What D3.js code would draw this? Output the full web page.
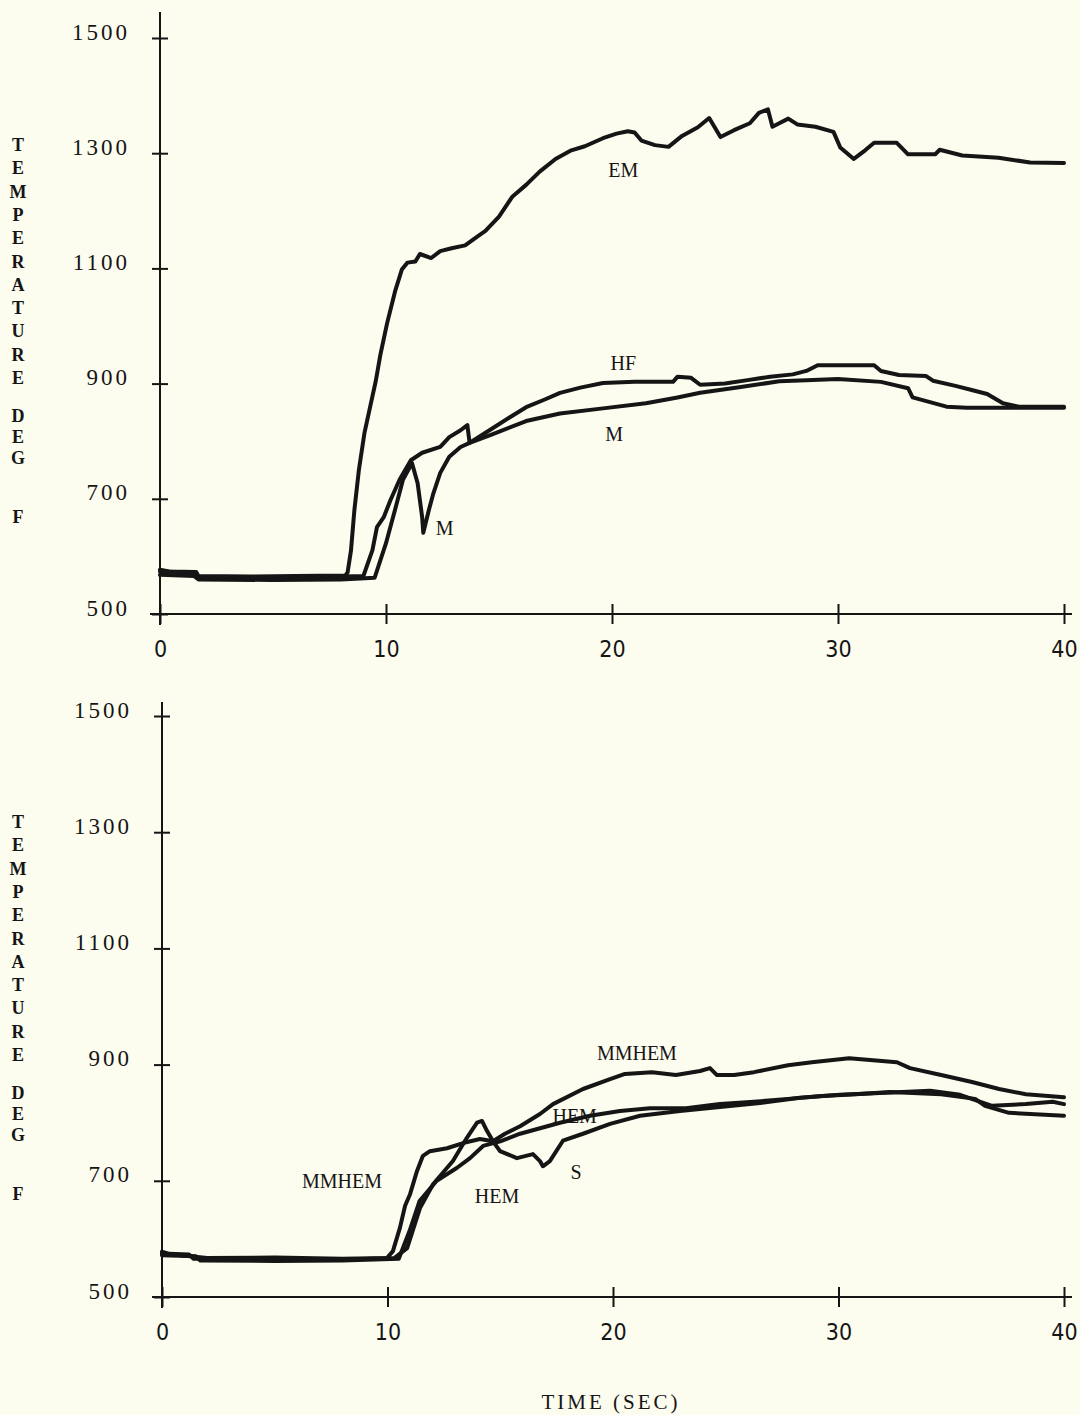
<!DOCTYPE html>
<html><head><meta charset="utf-8">
<script src="https://cdn.jsdelivr.net/npm/d3@7"></script>
<style>
html,body{margin:0;padding:0;background:#fcfcef;}
svg{display:block;}
</style></head>
<body>
<svg id="c" width="1080" height="1415"></svg>
<script>
// ---------- data (time sec, temperature deg F) ----------
const xTicks = [0, 10, 20, 30, 40];
const yTicks = [500, 700, 900, 1100, 1300, 1500];
const yTitleWords = ["TEMPERATURE", "DEG", "F"];
const xTitle = "TIME (SEC)";

// Top panel
const topEM = [[0,577],[0.4,574],[1.6,573],[1.7,566],[4,565],[6,566],[8.2,567],[8.3,572],[8.45,610],[8.6,680],[8.8,750],[9.05,815],[9.3,860],[9.55,905],[9.75,950],[10.05,1005],[10.4,1060],[10.7,1098],[10.95,1110],[11.3,1112],[11.5,1125],[12.0,1118],[12.4,1130],[12.9,1135],[13.5,1140],[14.1,1157],[14.4,1165],[15.0,1190],[15.6,1225],[16.2,1245],[16.8,1268],[17.5,1290],[18.2,1305],[18.8,1312],[19.6,1326],[20.2,1334],[20.7,1338],[21.0,1336],[21.3,1322],[21.9,1314],[22.5,1311],[23.1,1330],[23.8,1345],[24.3,1361],[24.8,1328],[25.4,1340],[26.1,1352],[26.5,1370],[26.9,1376],[27.1,1346],[27.4,1352],[27.8,1360],[28.2,1350],[29.0,1346],[29.8,1337],[30.1,1310],[30.7,1290],[31.2,1305],[31.6,1318],[32.6,1318],[33.1,1298],[34.3,1298],[34.5,1306],[35.5,1296],[37.1,1292],[38.5,1284],[40,1283]];
const topHF = [[0,574],[1.5,572],[1.7,563],[4,562],[6,563],[9.0,566],[9.4,611],[9.6,651],[9.9,668],[10.2,698],[10.6,733],[11.1,767],[11.6,780],[12.4,790],[12.8,807],[13.3,819],[13.6,828],[13.7,797],[13.9,802],[14.7,822],[15.5,842],[16.2,859],[17.0,872],[17.7,884],[18.6,893],[19.6,901],[21.0,903],[22.7,903],[22.9,912],[23.5,910],[23.9,898],[25.0,900],[26.0,906],[27.0,912],[28.0,916],[28.6,922],[29.1,932],[30.0,932],[31.6,932],[31.9,922],[32.7,915],[33.9,913],[34.2,905],[35.2,896],[36.0,888],[36.6,882],[37.3,866],[38.0,860],[40,860]];
const topM = [[0,568],[1.5,566],[1.7,560],[5,559],[8,560],[9.5,563],[10.0,623],[10.4,681],[10.75,733],[11.15,762],[11.4,727],[11.6,668],[11.65,641],[11.9,681],[12.1,710],[12.4,745],[12.8,773],[13.3,790],[13.7,797],[14.7,812],[16.2,835],[17.7,848],[19.6,857],[21.5,866],[22.9,876],[23.9,884],[25.7,894],[27.4,904],[28.6,906],[30.0,908],[31.9,903],[33.1,892],[33.3,876],[34.8,860],[35.7,858],[40,858]];

// Bottom panel
const botMMHEM = [[0,578],[0.3,574],[2,567],[5,568],[8,566],[9.98,567],[10.24,579],[10.55,619],[10.78,657],[11.0,677],[11.31,717],[11.57,743],[11.88,751],[12.64,756],[13.35,765],[14.1,772],[14.68,768],[15.21,781],[15.88,794],[16.76,815],[17.34,832],[18.67,858],[19.87,875],[20.53,884],[21.73,887],[22.79,882],[23.86,889],[24.3,894],[24.61,882],[25.37,882],[26.25,887],[27.76,899],[28.82,904],[30.47,911],[32.59,904],[33.17,894],[34.55,882],[35.92,870],[37.12,858],[38.31,849],[40,844]];
const botHEM = [[0,572],[1.5,570],[1.7,563],[5,562],[8,563],[10.5,566],[10.98,614],[11.42,665],[12.18,700],[13.07,722],[13.66,739],[14.24,760],[15.0,768],[15.88,781],[17.65,800],[18.98,812],[20.31,820],[21.64,825],[23.24,825],[24.74,832],[26.25,836],[27.76,841],[29.27,846],[30.77,849],[32.28,853],[34.55,849],[36.06,841],[36.5,829],[37.56,817],[40,812]];
const botS = [[0,575],[1.2,573],[1.4,566],[5,565],[8,564],[10.3,567],[10.87,584],[11.44,653],[12.02,694],[12.9,734],[13.52,774],[13.97,800],[14.19,803],[14.41,786],[14.68,768],[14.99,751],[15.74,739],[16.45,746],[16.76,734],[16.89,725],[17.2,734],[17.78,769],[18.67,781],[19.87,798],[21.2,812],[22.97,820],[24.74,827],[26.52,834],[28.29,843],[30.06,848],[31.84,851],[34.06,855],[35.39,848],[36.81,829],[38.31,832],[39.5,836],[40,832]];

// curve labels [text, time, temp]
const topLabels = [["EM",20.5,1271],["HF",20.5,936],["M",20.1,812],["M",12.6,649]];
const botLabels = [["MMHEM",21.06,920],["HEM",18.3,811],["S",18.36,715],["MMHEM",7.98,700],["HEM",14.86,674]];

// ---------- drawing ----------
const svg = d3.select("#c");
const ink = "#151515";
const serif = "'Liberation Serif','DejaVu Serif',serif";
const narrow = "'Liberation Sans Narrow','DejaVu Sans Condensed','Roboto Condensed',sans-serif";

function panel(cfg, series, labels){
  const x = d3.scaleLinear().domain([0,40]).range([cfg.x0, cfg.x1]);
  const y = d3.scaleLinear().domain([500,1500]).range([cfg.y0, cfg.y1]);
  const g = svg.append("g");

  // y axis line
  g.append("line").attr("x1",cfg.x0).attr("x2",cfg.x0)
    .attr("y1",cfg.y1 - cfg.axTop).attr("y2",cfg.y0 + 11)
    .attr("stroke",ink).attr("stroke-width",2);
  // x axis line
  g.append("line").attr("x1",cfg.x0 - 10).attr("x2",cfg.x1 + 8)
    .attr("y1",cfg.y0).attr("y2",cfg.y0)
    .attr("stroke",ink).attr("stroke-width",2);

  // y ticks (cross)
  const yAxis = d3.axisLeft(y).tickValues(yTicks).tickSize(0).tickFormat(d=>d);
  const ya = g.append("g").attr("transform",`translate(${cfg.x0},0)`).call(yAxis);
  ya.select(".domain").remove();
  ya.selectAll(".tick line").remove();
  ya.selectAll(".tick").append("line").attr("x1",-8).attr("x2",8)
    .attr("stroke",ink).attr("stroke-width",2);
  ya.selectAll(".tick text").attr("x",-30).attr("y",1).attr("dy","0")
    .attr("font-family",serif).attr("font-size",23).attr("letter-spacing",3)
    .attr("fill",ink).attr("text-anchor","end");

  // x ticks (cross)
  const xAxis = d3.axisBottom(x).tickValues(xTicks).tickSize(0).tickFormat(d=>d);
  const xa = g.append("g").attr("transform",`translate(0,${cfg.y0})`).call(xAxis);
  xa.select(".domain").remove();
  xa.selectAll(".tick line").remove();
  xa.selectAll(".tick").append("line").attr("y1",-10).attr("y2",10)
    .attr("stroke",ink).attr("stroke-width",2);
  xa.selectAll(".tick text").attr("y",35).attr("dy","0")
    .attr("font-family",narrow).attr("font-size",23).attr("fill",ink)
    .attr("dominant-baseline","central");

  // curves
  const line = d3.line().x(d=>x(d[0])).y(d=>y(d[1]));
  series.forEach(s=>{
    g.append("path").datum(s).attr("d",line)
      .attr("fill","none").attr("stroke",ink).attr("stroke-width",4)
      .attr("stroke-linejoin","round").attr("stroke-linecap","round");
  });

  // labels
  labels.forEach(l=>{
    g.append("text").attr("x",x(l[1])).attr("y",y(l[2]))
      .attr("text-anchor","middle").attr("dominant-baseline","central")
      .attr("font-family",serif).attr("font-size",20).attr("fill",ink)
      .text(l[0]);
  });

  // vertical y title: word starts and per-letter step
  const starts = [cfg.titleTop, cfg.titleTop + 271, cfg.titleTop + 372];
  const steps = [23.3, 21, 0];
  yTitleWords.forEach((w,wi)=>{
    w.split("").forEach((c,i)=>{
      g.append("text").attr("x",18).attr("y",starts[wi] + i*steps[wi])
        .attr("text-anchor","middle").attr("dominant-baseline","central")
        .attr("font-family",serif).attr("font-size",18).attr("font-weight","bold").attr("fill",ink)
        .text(c);
    });
  });
}

panel({x0:160,x1:1064,y0:614,y1:38,axTop:26,titleTop:145}, [topM, topHF, topEM], topLabels);
panel({x0:162,x1:1064,y0:1297,y1:716,axTop:14,titleTop:822}, [botS, botHEM, botMMHEM], botLabels);

svg.append("text").attr("x",611).attr("y",1402)
  .attr("text-anchor","middle").attr("dominant-baseline","central")
  .attr("font-family",serif).attr("font-size",21).attr("letter-spacing",3).attr("fill",ink)
  .text(xTitle);
</script>
</body></html>
